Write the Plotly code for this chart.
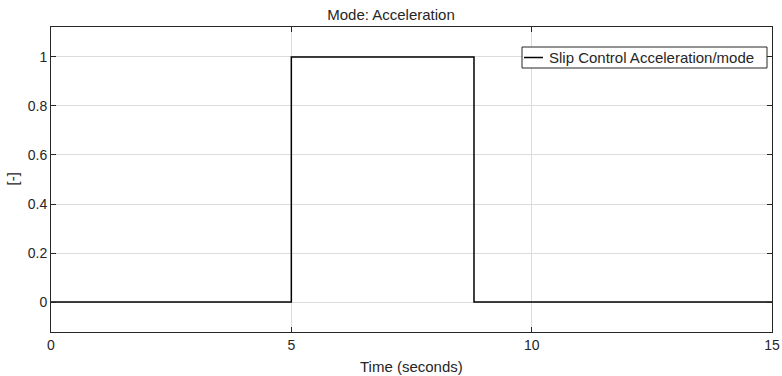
import plotly.graph_objects as go

time_s = [0, 5, 8.8, 15]
mode_val = [0, 1, 0, 0]
x_ticks = [0, 5, 10, 15]
y_ticks = [0, 0.2, 0.4, 0.6, 0.8, 1]
series_name = "Slip Control Acceleration/mode"

FONT = "Liberation Sans, Arial, sans-serif"
DARK = "#262626"

W, H = 782, 376
L, R, T, B = 51, 10, 27, 44
PW, PH = W - L - R, H - T - B

def px(xp):
    return (xp - L) / PW

def py(yp):
    return (H - B - yp) / PH

fig = go.Figure()
fig.add_trace(go.Scatter(
    x=time_s, y=mode_val, mode="lines", line_shape="hv",
    line=dict(color="#000000", width=1.5),
    name=series_name, showlegend=False,
))

axis_common = dict(
    showline=True, linecolor=DARK, linewidth=1, mirror="allticks",
    ticks="inside", ticklen=5, tickcolor=DARK, tickwidth=1,
    showgrid=True, gridcolor="#dcdcdc", gridwidth=1,
    zeroline=False, automargin=False,
    tickfont=dict(family=FONT, size=14, color=DARK),
)

# manual compact legend
fig.add_shape(type="rect", xref="paper", yref="paper",
              x0=px(522), x1=px(767), y0=py(68), y1=py(47),
              line=dict(color=DARK, width=1), fillcolor="white", layer="above")
fig.add_shape(type="line", xref="paper", yref="paper",
              x0=px(524), x1=px(543), y0=py(57.5), y1=py(57.5),
              line=dict(color="#000000", width=1.5), layer="above")
fig.add_annotation(text=series_name, xref="paper", yref="paper",
                   x=px(547), y=py(57.5), xanchor="left", yanchor="middle",
                   showarrow=False, font=dict(family=FONT, size=15, color=DARK))

# axis titles
fig.add_annotation(text="Time (seconds)", xref="paper", yref="paper",
                   x=0.5, y=py(366), xanchor="center", yanchor="middle",
                   showarrow=False, font=dict(family=FONT, size=15, color=DARK))
fig.add_annotation(text="[-]", xref="paper", yref="paper",
                   x=px(12), y=0.5, xanchor="center", yanchor="middle",
                   textangle=-90, showarrow=False,
                   font=dict(family=FONT, size=15, color=DARK))

fig.update_layout(
    width=W, height=H,
    margin=dict(l=L, r=R, t=T, b=B),
    paper_bgcolor="white", plot_bgcolor="white",
    title=dict(text="Mode: Acceleration", x=0.5, xanchor="center",
               y=1 - 15/H, yanchor="middle",
               font=dict(family=FONT, size=15, color=DARK)),
    xaxis=dict(range=[0, 15], tickvals=x_ticks, **axis_common),
    yaxis=dict(range=[-0.122, 1.122], tickvals=y_ticks,
               ticktext=[f"{v:g}" for v in y_ticks], **axis_common),
    showlegend=False,
)

fig.write_html("out.html")
